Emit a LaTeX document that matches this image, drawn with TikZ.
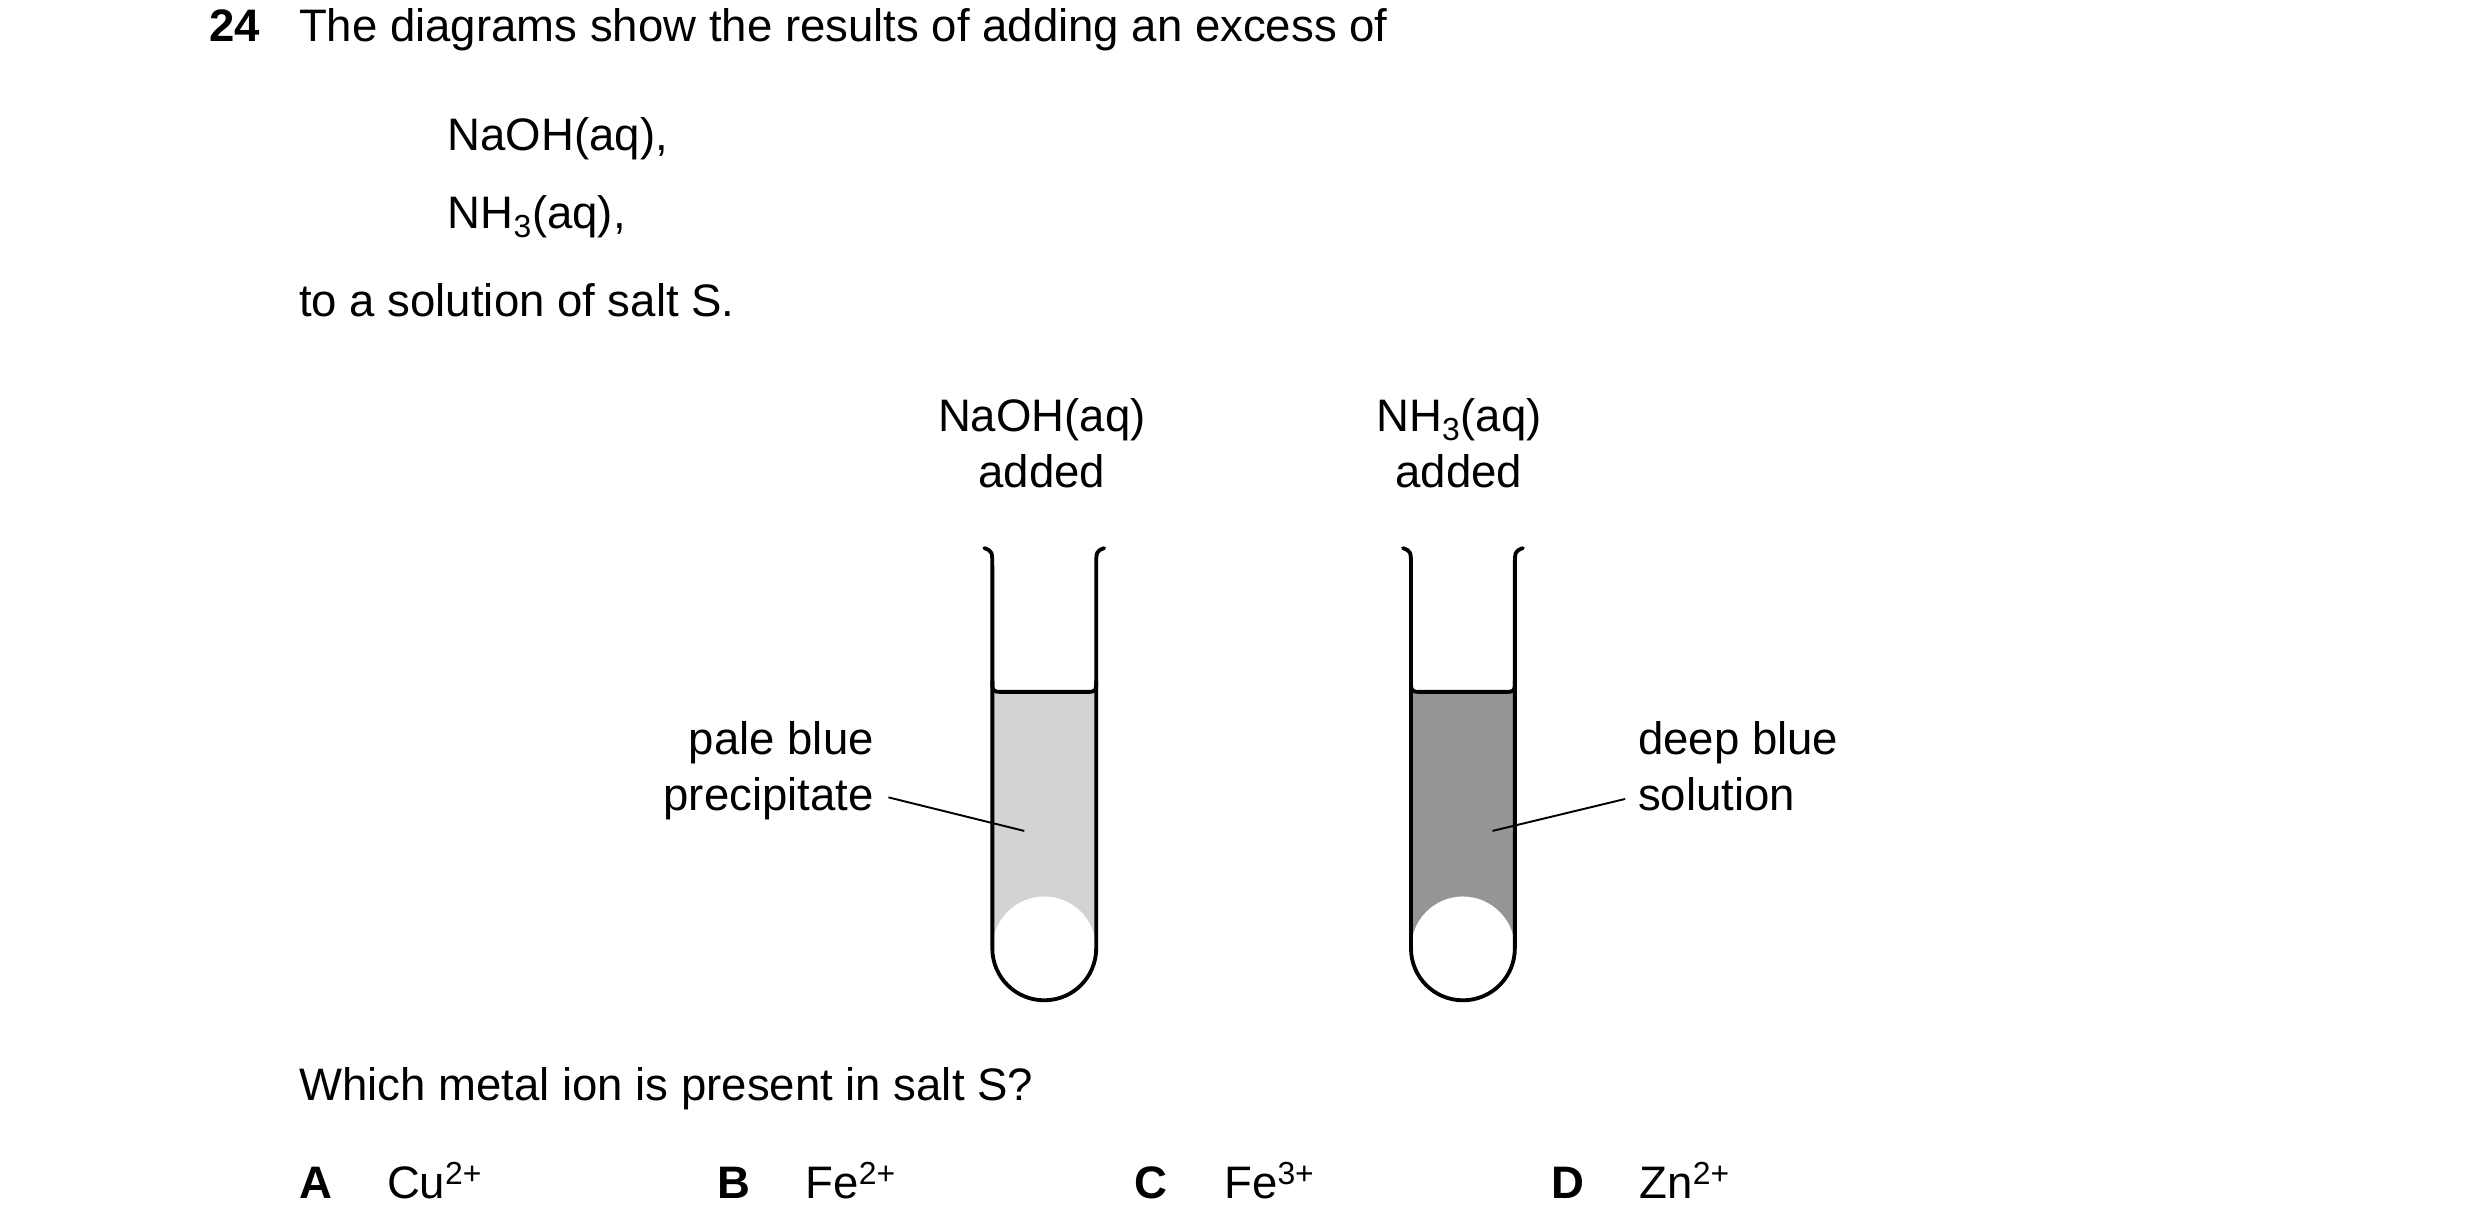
\documentclass[tikz,border=0pt]{standalone}
\usepackage{fontspec}
\setmainfont{Liberation Sans}
\begin{document}
\begin{tikzpicture}[x=1pt,y=-1pt,
  txt/.style={inner sep=0pt,font=\fontsize{28.5}{34}\selectfont},
  bold/.style={txt,font=\fontsize{28.5}{34}\selectfont\bfseries},
  tube/.style={line width=2.4pt,line join=round,line cap=round},
  lead/.style={line width=1.2pt}]
\useasboundingbox (0,0) rectangle (1552,767);
\node[bold,anchor=base west] (n24) at (131,26) {24};
\node[txt,anchor=base west] (l1) at (187,26) {The diagrams show the results of adding an excess of};
\node[txt,anchor=base west] (l2) at (280,94) {NaOH(aq),};
\node[txt,anchor=base west] (l3) at (280,143) {NH\textsubscript{3}(aq),};
\node[txt,anchor=base west] (l4) at (187,198) {to a solution of salt S.};
\node[txt,anchor=base] (t1a) at (652,270) {NaOH(aq)};
\node[txt,anchor=base] (t1b) at (652,305) {added};
\node[txt,anchor=base] (t2a) at (913,270) {NH\textsubscript{3}(aq)};
\node[txt,anchor=base] (t2b) at (913,305) {added};
% tube 1
\fill[fill={rgb,255:red,209;green,211;blue,212}] (621,426) .. controls (621,433) .. (628,433) -- (679,433) .. controls (686,433) .. (686,426) -- (686,593.5) arc[start angle=0,end angle=-180,radius=32.5] -- cycle;
\draw[line width=2.4pt] (621,426) .. controls (621,433) .. (628,433) -- (679,433) .. controls (686,433) .. (686,426);
\draw[tube] (616,343) .. controls (621,345) .. (621,355) -- (621,593.5) arc[start angle=180,end angle=0,radius=32.5] -- (686,355) .. controls (686,345) .. (691,343);
% tube 2
\fill[fill={rgb,255:red,148;green,149;blue,151}] (883,426) .. controls (883,433) .. (890,433) -- (941,433) .. controls (948,433) .. (948,426) -- (948,593.5) arc[start angle=0,end angle=-180,radius=32.5] -- cycle;
\draw[line width=2.4pt] (883,426) .. controls (883,433) .. (890,433) -- (941,433) .. controls (948,433) .. (948,426);
\draw[tube] (878,343) .. controls (883,345) .. (883,355) -- (883,593.5) arc[start angle=180,end angle=0,radius=32.5] -- (948,355) .. controls (948,345) .. (953,343);
% labels
\node[txt,anchor=base east] (p1) at (547,472) {pale blue};
\node[txt,anchor=base east] (p2) at (547,507) {precipitate};
\node[txt,anchor=base west] (d1) at (1025,472) {deep blue};
\node[txt,anchor=base west] (d2) at (1025,507) {solution};
\coordinate (e1) at (641,520);
\coordinate (e2) at (934,520);
\draw[lead] (556,499) -- (e1);
\draw[lead] (1017,500) -- (e2);
\node[txt,anchor=base west] (q) at (187,689) {Which metal ion is present in salt S?};
\node[bold,anchor=base west] (oA) at (187,750) {A};
\node[txt,anchor=base west] (vA) at (242,750) {Cu\textsuperscript{2+}};
\node[bold,anchor=base west] (oB) at (449,750) {B};
\node[txt,anchor=base west] (vB) at (504,750) {Fe\textsuperscript{2+}};
\node[bold,anchor=base west] (oC) at (710,750) {C};
\node[txt,anchor=base west] (vC) at (766,750) {Fe\textsuperscript{3+}};
\node[bold,anchor=base west] (oD) at (971,750) {D};
\node[txt,anchor=base west] (vD) at (1026,750) {Zn\textsuperscript{2+}};
\end{tikzpicture}
\end{document}
